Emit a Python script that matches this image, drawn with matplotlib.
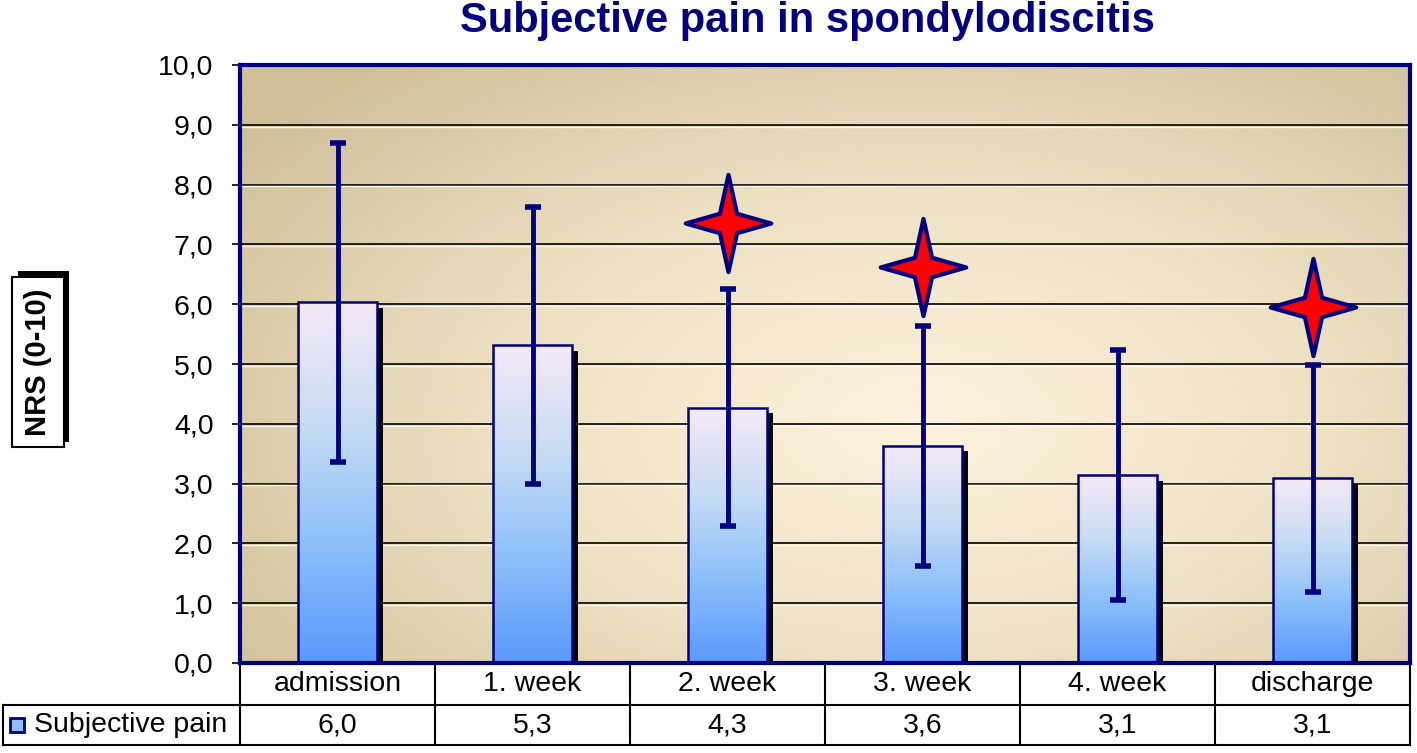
import numpy as np
import matplotlib
matplotlib.use("Agg")
import matplotlib.pyplot as plt
from matplotlib.colors import LinearSegmentedColormap
from matplotlib.path import Path
import matplotlib.patheffects as pe
import matplotlib.transforms as mtransforms

plt.rcParams['font.family'] = ['Liberation Sans', 'DejaVu Sans']

# data
categories = ["admission", "1. week", "2. week", "3. week", "4. week", "discharge"]
means = [6.03, 5.31, 4.27, 3.63, 3.14, 3.09]
sd = [2.67, 2.32, 1.98, 2.01, 2.09, 1.90]
table_values = ["6,0", "5,3", "4,3", "3,6", "3,1", "3,1"]
sig_idx = [2, 3, 5]
sig_y = [7.35, 6.62, 5.95]
yticks = np.arange(0, 11, 1)

navy = "#000080"

fig = plt.figure(figsize=(14.17, 7.53), dpi=100)
W, H = 1417, 753
ax = fig.add_axes([240 / W, (H - 663) / H, 1170 / W, 598 / H])

x = np.arange(len(categories))
ax.set_xlim(-0.5, len(categories) - 0.5)
ax.set_ylim(0, 10)

# background: tan with a light centre
gx, gy = np.meshgrid(np.linspace(0, 1, 300), np.linspace(0, 1, 300))
t = np.clip(np.sqrt(((gx - 0.58) / 0.72) ** 2 + ((gy - 0.4) / 0.8) ** 2), 0, 1)
bg_cmap = LinearSegmentedColormap.from_list("bg", ["#FCF2DD", "#EDE1C3", "#D0BF99"])
ax.imshow(t, cmap=bg_cmap, extent=[0, 1, 0, 1], transform=ax.transAxes,
          origin="lower", aspect="auto", zorder=0, interpolation="bilinear")

# grid
for yv in yticks[1:-1]:
    ax.axhline(yv, color="black", lw=1.2, zorder=1)
    ax.axhline(yv - 0.03, color="#FFF8E8", lw=1.0, zorder=1)

bw = 0.405
# shadows
ax.bar(x, means, width=bw, color="black", zorder=2,
       path_effects=[pe.SimplePatchShadow(offset=(4.5, -4), shadow_rgbFace="black", alpha=1)])

bar_cmap = LinearSegmentedColormap.from_list("bar", ["#5A98FC", "#8CC0FA", "#C8DCF3", "#F6E9F7"])
bars = ax.bar(x, means, width=bw, facecolor="none", edgecolor=navy, lw=1.8, zorder=3)
grad = np.linspace(0, 1, 256).reshape(-1, 1)
for rect in bars:
    x0, w, h = rect.get_x(), rect.get_width(), rect.get_height()
    im = ax.imshow(grad, cmap=bar_cmap, extent=[x0, x0 + w, 0, h], origin="lower",
                   aspect="auto", zorder=2.5, interpolation="bilinear")
    im.set_clip_path(rect)

ax.errorbar(x, means, yerr=sd, fmt="none", ecolor=navy, elinewidth=3.5,
            capsize=5.5, capthick=4, zorder=4)

# significance stars
a = 0.2
star = Path([(0, 1), (a * 0.88, a), (0.88, 0), (a * 0.88, -a), (0, -1),
             (-a * 0.88, -a), (-0.88, 0), (-a * 0.88, a), (0, 1)],
            [Path.MOVETO] + [Path.LINETO] * 7 + [Path.CLOSEPOLY])
ax.plot(x[sig_idx], sig_y, linestyle="none", marker=star, markersize=70,
        markerfacecolor="#FF0000", markeredgecolor=navy, markeredgewidth=3, zorder=5)

ax.set_aspect("auto")
ax.set_xlim(-0.5, len(categories) - 0.5)
ax.set_ylim(0, 10)

for s in ax.spines.values():
    s.set_color(navy)
    s.set_linewidth(3)
    s.set_zorder(6)
ax.set_xticks([])
ax.set_yticks(yticks)
ax.set_yticklabels([f"{v:.1f}".replace(".", ",") for v in yticks], fontsize=20.5)
ax.tick_params(axis="y", length=6, width=1.2, color="black", pad=13)

fig.text(807 / W, 1 - 21 / H, "Subjective pain in spondylodiscitis", fontsize=30,
         fontweight="bold", color=navy, ha="center", va="center")

# y label in a shadowed box
yl = fig.text(38 / W, 1 - 362 / H, "NRS (0-10)", rotation=90, fontsize=21,
              fontweight="bold", ha="center", va="center",
              bbox=dict(boxstyle="square,pad=0.4", facecolor="white", edgecolor="black", lw=1.5))
yl.get_bbox_patch().set_path_effects([
    pe.SimplePatchShadow(offset=(4, 4), shadow_rgbFace="black", alpha=1), pe.Normal()])

# data table below the plot
tr = ax.get_xaxis_transform()
trf = mtransforms.blended_transform_factory(fig.transFigure, ax.transAxes)
r1 = -(705 - 663) / 598
r2 = -(745 - 663) / 598
for xb in np.arange(-0.5, len(categories), 1.0):
    ax.plot([xb, xb], [0, r2], color="black", lw=1.5, transform=tr, clip_on=False)
ax.plot([3 / W, 1410 / W], [r1, r1], color="black", lw=1.5, transform=trf, clip_on=False)
ax.plot([3 / W, 1410 / W], [r2, r2], color="black", lw=1.5, transform=trf, clip_on=False)
ax.plot([3 / W, 3 / W], [r1, r2], color="black", lw=1.5, transform=trf, clip_on=False)
for xi, cat, val in zip(x, categories, table_values):
    ax.text(xi, r1 / 2, cat, transform=tr, ha="center", va="center", fontsize=20.5)
    ax.text(xi, (r1 + r2) / 2, val, transform=tr, ha="center", va="center", fontsize=20.5)
ax.text(34 / W, (r1 + r2) / 2, "Subjective pain", transform=trf, ha="left", va="center", fontsize=20.5)
ax.plot([17 / W], [(r1 + r2) / 2], transform=trf, marker="s", markersize=10,
        markerfacecolor="#8DBEF8", markeredgecolor=navy, markeredgewidth=2, clip_on=False)

fig.savefig("out.png", dpi=100)
